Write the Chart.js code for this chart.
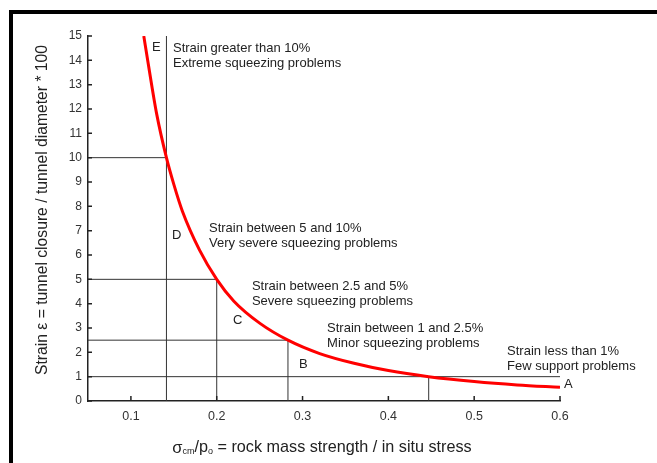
<!DOCTYPE html>
<html>
<head>
<meta charset="utf-8">
<script src="https://cdn.jsdelivr.net/npm/chart.js@4.4.1/dist/chart.umd.min.js"></script>
<style>
  html, body { margin: 0; padding: 0; background: #fff; }
  #wrap { width: 657px; height: 463px; }
</style>
</head>
<body>
<div id="wrap"><canvas id="squeezeChart" width="657" height="463"></canvas></div>
<script>
// curve: strength ratio vs strain (%)
const ratioValues = [0.115, 0.12, 0.13, 0.1414, 0.15, 0.16, 0.18, 0.2, 0.22, 0.25, 0.283, 0.32, 0.36, 0.4, 0.447, 0.5, 0.55, 0.6];
const strainValues = [15, 13.9, 11.8, 10, 8.9, 7.8, 6.2, 5, 4.1, 3.2, 2.5, 1.95, 1.55, 1.25, 1.0, 0.8, 0.66, 0.56];

// class boundaries (strain level and where it meets the curve)
const strainLimits = [10, 5, 2.5, 1];
const ratioLimits = [0.1414, 0.2, 0.283, 0.447];
const xTicks = [0.1, 0.2, 0.3, 0.4, 0.5, 0.6];
const yTicks = [0, 1, 2, 3, 4, 5, 6, 7, 8, 9, 10, 11, 12, 13, 14, 15];

// class letters and their notes
const classLetters = ["E", "D", "C", "B", "A"];
const classNotes = [
    ["Strain greater than 10%", "Extreme squeezing problems"],
    ["Strain between 5 and 10%", "Very severe squeezing problems"],
    ["Strain between 2.5 and 5%", "Severe squeezing problems"],
    ["Strain between 1 and 2.5%", "Minor squeezing problems"],
    ["Strain less than 1%", "Few support problems"]
];

// where the letters / notes sit, in data units
const letterPos = [[0.1293, 14.55], [0.1526, 6.8], [0.2237, 3.3], [0.3006, 1.5], [0.6094, 0.7]];
const notePos = [[0.149, 14.5], [0.191, 7.1], [0.241, 4.7], [0.3286, 3.0], [0.5383, 2.03]];

const X_MIN = 0.05, X_MAX = 0.6;
const FONT = "'Liberation Sans', Arial, sans-serif";

function boundaryDatasets() {
    const sets = [];
    strainLimits.forEach((s, i) => {
        const r = ratioLimits[i];
        const top = i === 0 ? 15 : s;
        const right = s === 1 ? X_MAX : r;
        sets.push({ data: [{ x: X_MIN, y: s }, { x: right, y: s }] });
        sets.push({ data: [{ x: r, y: 0 }, { x: r, y: top }] });
    });
    return sets.map(d => ({
        data: d.data,
        borderColor: "#333",
        borderWidth: 1,
        pointRadius: 0,
        tension: 0,
        order: 2
    }));
}

const decorations = {
    id: "decorations",
    beforeDraw(chart) {
        const c = chart.ctx;
        c.save();
        c.fillStyle = "#fff";
        c.fillRect(0, 0, chart.width, chart.height);
        // black frame
        c.fillStyle = "#000";
        c.fillRect(9, 10, chart.width - 9, 4);
        c.fillRect(9, 10, 4, chart.height - 10);
        c.restore();
    },
    afterDraw(chart) {
        const c = chart.ctx;
        const xs = chart.scales.x, ys = chart.scales.y;
        c.save();
        // inward tick marks
        c.strokeStyle = "#222";
        c.lineWidth = 1.5;
        c.beginPath();
        yTicks.forEach(v => {
            const py = ys.getPixelForValue(v);
            c.moveTo(xs.left, py);
            c.lineTo(xs.left + 4, py);
        });
        xTicks.forEach(v => {
            const px = xs.getPixelForValue(v);
            c.moveTo(px, ys.bottom);
            c.lineTo(px, ys.bottom - 5);
        });
        c.stroke();

        // letters and notes
        c.fillStyle = "#222";
        c.font = "13px " + FONT;
        c.textBaseline = "middle";
        c.textAlign = "left";
        classLetters.forEach((l, i) => {
            c.fillText(l, xs.getPixelForValue(letterPos[i][0]) - 4, ys.getPixelForValue(letterPos[i][1]));
        });
        classNotes.forEach((lines, i) => {
            const px = xs.getPixelForValue(notePos[i][0]);
            const py = ys.getPixelForValue(notePos[i][1]);
            lines.forEach((t, k) => c.fillText(t, px, py + k * 15));
        });

        // y axis title
        c.font = "15.7px " + FONT;
        c.fillStyle = "#222";
        c.textAlign = "center";
        c.save();
        c.translate(43, 210);
        c.rotate(-Math.PI / 2);
        c.fillText("Strain \u03b5 = tunnel closure / tunnel diameter * 100", 0, 0);
        c.restore();

        // x axis title with subscripts
        const parts = [
            ["\u03c3", 16.5, 0], ["cm", 9, 4], ["/p", 16.2, 0], ["o", 9, 4],
            [" = rock mass strength / in situ stress", 16.2, 0]
        ];
        let total = 0;
        parts.forEach(p => { c.font = p[1] + "px " + FONT; total += c.measureText(p[0]).width; });
        let px = 322 - total / 2;
        c.textAlign = "left";
        parts.forEach(p => {
            c.font = p[1] + "px " + FONT;
            c.fillText(p[0], px, 448 + p[2]);
            px += c.measureText(p[0]).width;
        });
        c.restore();
    }
};

new Chart(document.getElementById("squeezeChart").getContext("2d"), {
    type: "line",
    data: {
        datasets: [{
            data: ratioValues.map((r, i) => ({ x: r, y: strainValues[i] })),
            borderColor: "#ff0000",
            borderWidth: 3,
            pointRadius: 0,
            cubicInterpolationMode: "monotone",
            order: 1
        }, ...boundaryDatasets()]
    },
    options: {
        responsive: false,
        animation: false,
        layout: { padding: { top: 36, right: 97, left: 0, bottom: 0 } },
        plugins: { legend: { display: false }, tooltip: { enabled: false } },
        scales: {
            x: {
                type: "linear",
                min: X_MIN,
                max: X_MAX,
                afterFit(s) { s.height = 62; },
                afterBuildTicks(s) { s.ticks = xTicks.map(v => ({ value: v })); },
                grid: { display: false, drawTicks: false },
                border: { color: "#222", width: 1.5 },
                ticks: {
                    padding: 8,
                    color: "#333",
                    font: { family: FONT, size: 12.5 },
                    callback: v => v.toFixed(1)
                }
            },
            y: {
                type: "linear",
                min: 0,
                max: 15,
                afterFit(s) { s.width = 88; },
                afterBuildTicks(s) { s.ticks = yTicks.map(v => ({ value: v })); },
                grid: { display: false, drawTicks: false },
                border: { color: "#222", width: 1.5 },
                ticks: {
                    padding: 6,
                    color: "#333",
                    font: { family: FONT, size: 12 }
                }
            }
        }
    },
    plugins: [decorations]
});
</script>
</body>
</html>
